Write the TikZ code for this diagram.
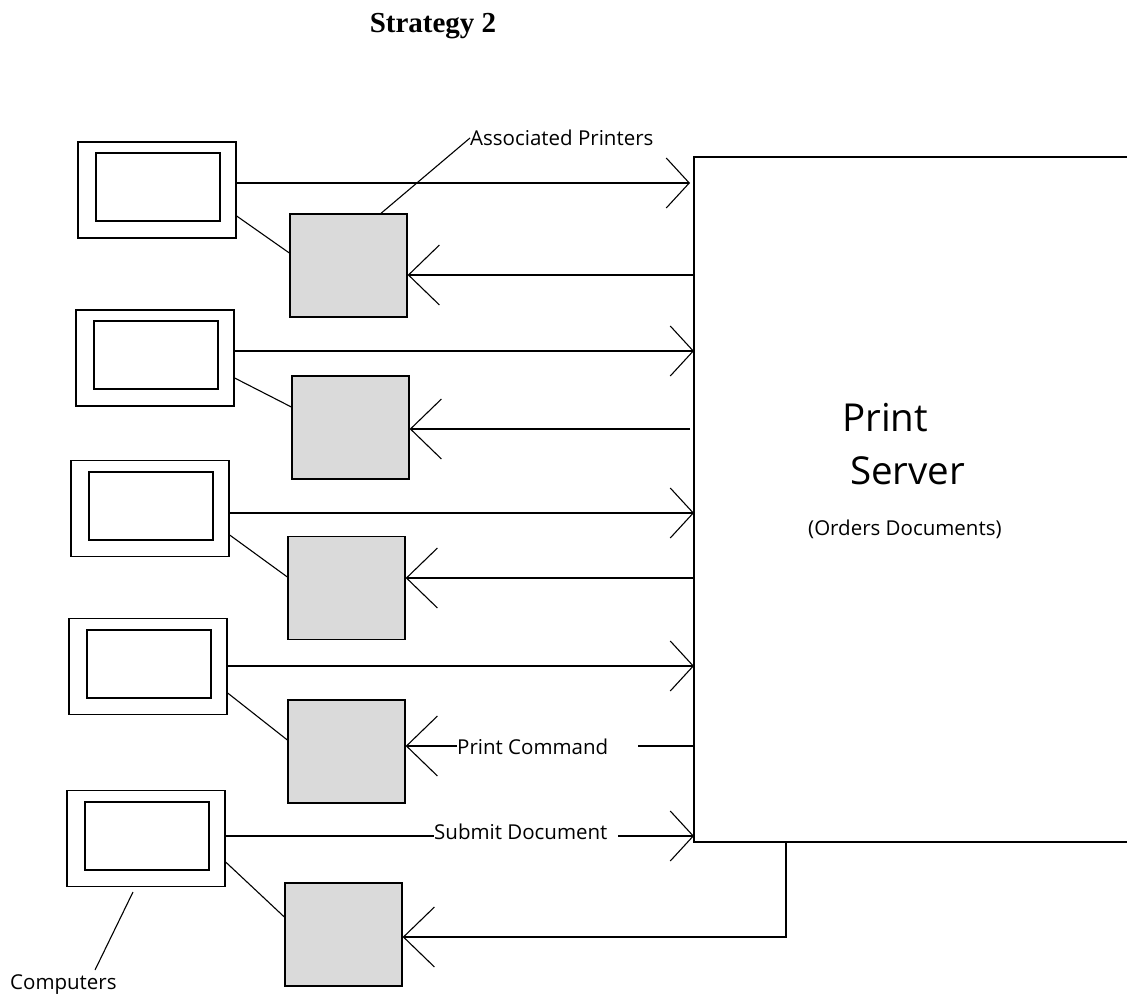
\documentclass[tikz,border=0pt]{standalone}
\usepackage{fontspec}
\setmainfont{Open Sans}
\newfontfamily\titlefont{Liberation Serif}
\usetikzlibrary{arrows.meta}
\definecolor{prgray}{HTML}{DADADA}
\tikzset{
  ln/.style={line width=1.3pt, black},
  screen/.style={ln, draw, minimum width=158pt, minimum height=96pt, inner sep=0pt},
  innerscreen/.style={ln, draw, minimum width=124pt, minimum height=68pt, inner sep=0pt},
  printer/.style={ln, draw, fill=prgray, minimum width=117pt, minimum height=103pt, inner sep=0pt},
  tosrv/.style={ln, -{Straight Barb[length=23pt,width=50pt,line width=1.1pt]}},
  toprn/.style={ln, -{Straight Barb[length=31pt,width=60pt,line width=1.1pt]}},
  lead/.style={line width=1.1pt, black},
  lbl/.style={font=\fontsize{20.5}{24}\selectfont, inner sep=0pt},
}
\begin{document}
\begin{tikzpicture}[x=1pt,y=-1pt]
\useasboundingbox (0,0) rectangle (1127,995);
% title
\node[font=\titlefont\bfseries\fontsize{29}{34}\selectfont] (title) at (433,26) {Strategy 2};
% computers
\node[screen] (c1) at (157,190) {};
\node[innerscreen] (s1) at (158,187) {};
\node[screen] (c2) at (155,358) {};
\node[innerscreen] (s2) at (156,355) {};
\node[screen] (c3) at (150,508.5) {};
\node[innerscreen] (s3) at (151,506) {};
\node[screen] (c4) at (148,666.5) {};
\node[innerscreen] (s4) at (149,664) {};
\node[screen] (c5) at (146,838.5) {};
\node[innerscreen] (s5) at (147,836) {};
% printers
\node[printer] (p1) at (348.5,265.5) {};
\node[printer] (p2) at (350.5,427.5) {};
\node[printer] (p3) at (346.5,588) {};
\node[printer] (p4) at (346.5,751.5) {};
\node[printer] (p5) at (343.5,934.5) {};
% print server (open on the right)
\coordinate (srvtl) at (694,157);
\coordinate (srvbl) at (694,842);
\draw[ln] (1127,157) -- (srvtl) -- (srvbl) -- (1127,842);
\node[anchor=west, font=\fontsize{38.5}{44}\selectfont, inner sep=0pt] (srvA) at (842,418) {Print};
\node[anchor=west, font=\fontsize{38.5}{44}\selectfont, inner sep=0pt] (srvB) at (850,471) {Server};
\node[anchor=west, lbl] (srvC) at (808,529) {(Orders Documents)};
% computer -> printer links
\draw[lead] (c1.east |- 0,216) -- (p1.west |- 0,253);
\draw[lead] (c2.east |- 0,378) -- (p2.west |- 0,407);
\draw[lead] (c3.east |- 0,535) -- (p3.west |- 0,577);
\draw[lead] (c4.east |- 0,693) -- (p4.west |- 0,740);
\draw[lead] (c5.east |- 0,862) -- (p5.west |- 0,917);
% computer -> server
\draw[tosrv] (c1.east |- 0,183) -- (690,183);
\draw[tosrv] (c2.east |- 0,351) -- (srvtl |- 0,351);
\draw[tosrv] (c3.east |- 0,513) -- (srvtl |- 0,513);
\draw[tosrv] (c4.east |- 0,666) -- (srvtl |- 0,666);
\node[lbl, anchor=west] (subm) at (434,832) {Submit Document};
\draw[ln] (c5.east |- 0,836) -- (subm.west |- 0,836);
\draw[tosrv] (618,836) -- (srvtl |- 0,836);
% server -> printer
\draw[toprn] (srvtl |- 0,275) -- (p1.east |- 0,275);
\draw[toprn] (690,429) -- (p2.east |- 0,429);
\draw[toprn] (srvtl |- 0,578) -- (p3.east |- 0,578);
\node[lbl, anchor=west] (pcmd) at (457,747) {Print Command};
\draw[ln] (srvtl |- 0,746) -- (638,746);
\draw[toprn] (pcmd.west |- 0,746) -- (p4.east |- 0,746);
\coordinate (bk1) at (786,842);
\coordinate (bk2) at (786,937);
\draw[toprn] (bk1) -- (bk2) -- (p5.east |- 0,937);
% callout labels
\node[lbl, anchor=west] (ap) at (470,138) {Associated Printers};
\draw[lead] (ap.west) -- (381,0 |- p1.north);
\node[lbl, anchor=west] (cmp) at (10,985) {Computers};
\draw[lead] (95,970) -- (133,892);
\end{tikzpicture}
\end{document}
